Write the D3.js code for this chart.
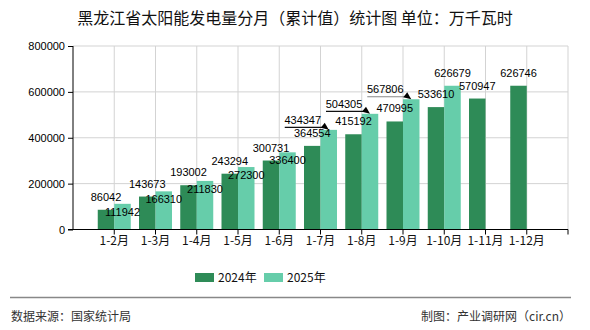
<!DOCTYPE html>
<html><head><meta charset="utf-8">
<script src="https://cdn.jsdelivr.net/npm/d3@7/dist/d3.min.js"></script>
<style>
html,body{margin:0;padding:0;background:#fff;}
svg{display:block;}
text{font-family:"Liberation Sans",Arial,sans-serif;}
.cjk{font-family:"Noto Sans CJK SC","Liberation Sans",sans-serif;}
</style></head>
<body>
<svg id="chart" width="590" height="330"></svg>
<script>
const categories = ["1-2月","1-3月","1-4月","1-5月","1-6月","1-7月","1-8月","1-9月","1-10月","1-11月","1-12月"];
const series2024 = [86042,143673,193002,243294,300731,364554,415192,470995,533610,570947,626746];
const series2025 = [111942,166310,211830,272300,336400,434347,504305,567806,626679,null,null];
const seriesNames = ["2024年","2025年"];
const yTicks = [0,200000,400000,600000,800000];
const titleText = "黑龙江省太阳能发电量分月（累计值）统计图 单位：万千瓦时";
const sourceText = "数据来源：国家统计局";
const makerText = "制图：产业调研网（cir.cn）";

(function(){
const colors = ["#2e8b57","#66cdaa"];
const svg = d3.select("#chart");
const pL = 73, pR = 568, pT = 46, pB = 229.5;

const x = d3.scalePoint().domain(categories).range([pL, pR]).padding(1);
const step = x.step();
const y = d3.scaleLinear().domain([0, 800000]).range([pB, pT]);
const barW = 16.5;

// title
svg.append("text").attr("class","cjk").attr("x",295).attr("y",24)
  .attr("text-anchor","middle").attr("font-size",16).attr("fill","#111").text(titleText);

// grid
const g = svg.append("g");
yTicks.filter(d=>d>0).forEach(t=>{
  g.append("line").attr("x1",pL).attr("x2",pR).attr("y1",y(t)).attr("y2",y(t))
   .attr("stroke","#d3d3d3").attr("stroke-width",1);
});
const gridXs = d3.range(1, categories.length + 2).map(k => pL + step*k);
gridXs.forEach(gx=>{
  g.append("line").attr("x1",gx).attr("x2",gx).attr("y1",pT).attr("y2",pB)
   .attr("stroke","#d3d3d3").attr("stroke-width",1);
});

// bars
const bars = svg.append("g");
categories.forEach((c,i)=>{
  const cx = x(c);
  if (series2024[i] != null)
    bars.append("rect").attr("x",cx-barW).attr("width",barW)
      .attr("y",y(series2024[i])).attr("height",pB-y(series2024[i])).attr("fill",colors[0]);
  if (series2025[i] != null)
    bars.append("rect").attr("x",cx).attr("width",barW)
      .attr("y",y(series2025[i])).attr("height",pB-y(series2025[i])).attr("fill",colors[1]);
});

// axes
const yAxis = d3.axisLeft(y).tickValues(yTicks).tickFormat(d3.format("d")).tickSize(5).tickPadding(3);
const ya = svg.append("g").attr("transform",`translate(${pL},0)`).call(yAxis);
ya.select(".domain").attr("stroke","#000").attr("d",`M0,${pT}V${pB}`);
ya.selectAll("text").attr("font-size",11).attr("fill","#000");
ya.selectAll("line").attr("stroke","#000");

const xa = svg.append("g").attr("transform",`translate(0,${pB})`);
xa.append("line").attr("x1",pL-5).attr("x2",pR).attr("y1",0).attr("y2",0).attr("stroke","#000");
gridXs.forEach(gx=>{
  xa.append("line").attr("x1",gx).attr("x2",gx).attr("y1",0).attr("y2",5).attr("stroke","#000");
});
categories.forEach(c=>{
  xa.append("text").attr("class","cjk").attr("x",x(c)).attr("y",15).attr("text-anchor","middle")
    .attr("font-size",12).attr("fill","#111").text(c);
});

// labels
const lab = svg.append("g").attr("font-size",11).attr("fill","#000");
categories.forEach((c,i)=>{
  const cx = x(c);
  if (series2024[i] != null) {
    lab.append("text").attr("x",cx-barW/2).attr("y",y(series2024[i])-9)
      .attr("text-anchor","middle").text(series2024[i]);
  }
  const v = series2025[i];
  if (v != null) {
    const bx = cx + barW/2, by = y(v);
    if (i < 5) {
      lab.append("text").attr("x",bx).attr("y",by+12).attr("text-anchor","middle").text(v);
    } else if (i < 8) {
      const lx = bx - 26, ly = by - 10;
      lab.append("text").attr("x",lx).attr("y",ly+4).attr("text-anchor","middle").text(v);
      const lc = i === 7 ? "#888" : "#111";
      lab.append("line").attr("x1",lx-18).attr("x2",bx-5).attr("y1",by-2.5).attr("y2",by-2.5)
        .attr("stroke",lc).attr("stroke-width",1.2);
      lab.append("path").attr("d",`M${bx},${by}L${bx-8},${by-2}L${bx-4},${by-7}Z`).attr("fill","#000");
    } else {
      lab.append("text").attr("x",bx).attr("y",by-9).attr("text-anchor","middle").text(v);
    }
  }
});

// legend
const leg = svg.append("g");
const legX = [195, 264];
seriesNames.forEach((n,i)=>{
  leg.append("rect").attr("x",legX[i]).attr("y",273).attr("width",19).attr("height",9).attr("fill",colors[i]);
  leg.append("text").attr("class","cjk").attr("x",legX[i]+23).attr("y",281.5).attr("font-size",12)
    .attr("fill","#111").text(n);
});

// footer
svg.append("line").attr("x1",10).attr("x2",571).attr("y1",297.5).attr("y2",297.5).attr("stroke","#888").attr("stroke-width",1.3);
svg.append("text").attr("class","cjk").attr("x",11).attr("y",321).attr("font-size",12).attr("fill","#333").text(sourceText);
svg.append("text").attr("class","cjk").attr("x",571).attr("y",321).attr("text-anchor","end").attr("font-size",12).attr("fill","#333").text(makerText);
})();
</script>
</body></html>
